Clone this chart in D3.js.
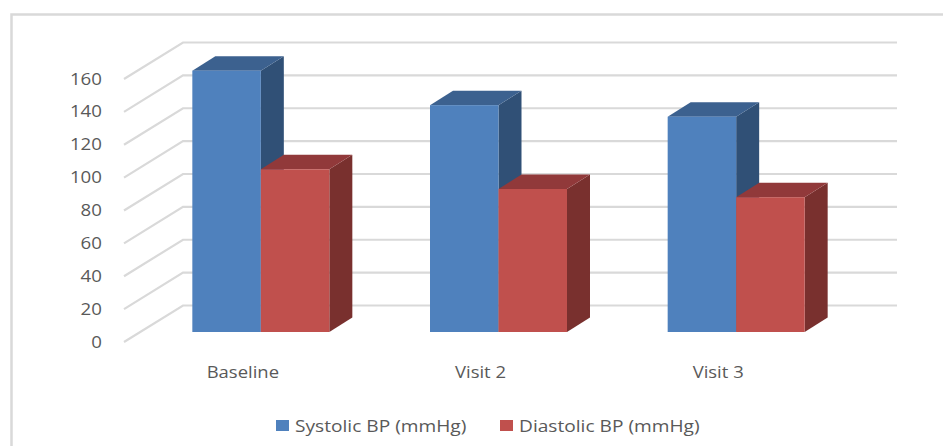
<!DOCTYPE html>
<html lang="en">
<head>
<meta charset="utf-8">
<title>Blood pressure by visit</title>
<script src="https://cdn.jsdelivr.net/npm/d3@7"></script>
<style>
html, body { margin: 0; padding: 0; background: #fff; overflow: hidden; }
text { font-family: "Open Sans", sans-serif; fill: #595959; }
.tick_label { font-size: 17px; }
.cat_label { font-size: 16.5px; }
.legend_label { font-size: 16.5px; }
</style>
</head>
<body>
<script>
var categories = ["Baseline", "Visit 2", "Visit 3"];
var seriesNames = ["Systolic BP (mmHg)", "Diastolic BP (mmHg)"];
var systolic = [159, 138, 131];
var diastolic = [99, 87, 82];
var tickValues = [0, 20, 40, 60, 80, 100, 120, 140, 160];

var w = 943, h = 446;
var colors = {
  front: ["#4f81bd", "#c0504d"],
  top: ["#3c618f", "#91393a"],
  side: ["#305076", "#79302e"]
};

var svg = d3.select("body").append("svg")
  .attr("width", w)
  .attr("height", h);

// the reference text is squeezed wide, so stretch it around its anchor
function wideText(cls, px, py, sx, anchor, str) {
  svg.append("text")
    .attr("class", cls)
    .attr("transform", "translate(" + px + "," + py + ") scale(" + sx + ",1)")
    .attr("text-anchor", anchor)
    .text(str);
}

// chart frame, only top and left show in the picture
svg.append("path")
  .attr("d", "M943,14.5H11.5V446")
  .attr("fill", "none")
  .attr("stroke", "#d9d9d9")
  .attr("stroke-width", 2.5);

// front plane of the floor, back wall sits behind it
var y = d3.scaleLinear().domain([0, 160]).range([342, 79]);
var wall = { dx: 59, dy: -36.5, right: 897 };
var barDepth = { dx: 23, dy: -14.5, lift: 10 };

var grid = svg.append("g");
tickValues.forEach(function(t) {
  grid.append("path")
    .attr("d", "M124," + y(t) + "L" + (124 + wall.dx) + "," + (y(t) + wall.dy) + "H" + wall.right)
    .attr("fill", "none")
    .attr("stroke", "#d9d9d9")
    .attr("stroke-width", 2.2);
  wideText("tick_label", 102, y(t) + 5.5, 1.1, "end", t);
});

var x0 = d3.scaleBand().domain(categories).range([142, 855]);
var x1 = d3.scaleBand().domain(seriesNames)
  .range([x0.bandwidth() / 2 - 68.5, x0.bandwidth() / 2 + 68.5]);

// bars sit a little way in from the front of the floor
function barY(v) { return y(v) - barDepth.lift; }

function drawBar(name, si, cat, v) {
  var bx = x0(cat) + x1(name), bw = x1.bandwidth();
  var top = barY(v), base = barY(0);
  var g = svg.append("g");
  g.append("path")
    .attr("d", "M" + (bx + bw) + "," + top + "l" + barDepth.dx + "," + barDepth.dy +
      "V" + (base + barDepth.dy) + "l" + (-barDepth.dx) + "," + (-barDepth.dy) + "Z")
    .attr("fill", colors.side[si]);
  g.append("path")
    .attr("d", "M" + bx + "," + top + "l" + barDepth.dx + "," + barDepth.dy +
      "h" + bw + "l" + (-barDepth.dx) + "," + (-barDepth.dy) + "Z")
    .attr("fill", colors.top[si]);
  g.append("rect")
    .attr("x", bx)
    .attr("y", top)
    .attr("width", bw)
    .attr("height", base - top)
    .attr("fill", colors.front[si]);
}

categories.forEach(function(cat, i) {
  drawBar(seriesNames[0], 0, cat, systolic[i]);
  drawBar(seriesNames[1], 1, cat, diastolic[i]);
  wideText("cat_label", x0(cat) + x0.bandwidth() / 2 - 18, 378, 1.12, "middle", cat);
});

// legend
var legendX = [276, 500];
seriesNames.forEach(function(name, i) {
  svg.append("rect")
    .attr("x", legendX[i])
    .attr("y", 420)
    .attr("width", 13)
    .attr("height", 11)
    .attr("fill", colors.front[i]);
  wideText("legend_label", legendX[i] + 19, 431.5, 1.16, "start", name);
});
</script>
</body>
</html>
